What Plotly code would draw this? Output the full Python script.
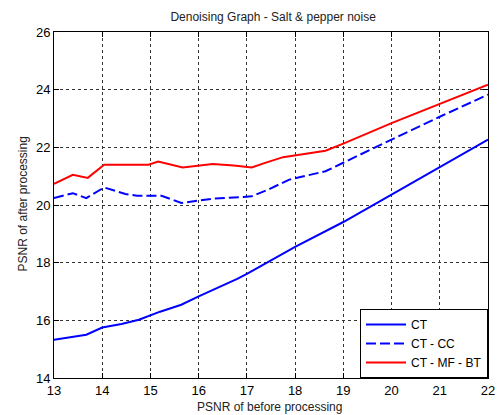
import plotly.graph_objects as go

x_ct = [13.0, 13.67, 14.0, 14.4, 14.76, 15.2, 15.64, 16.0, 16.8, 17.0, 18.0, 19.0, 20.0, 21.0, 22.0]
y_ct = [15.33, 15.5, 15.75, 15.87, 16.02, 16.3, 16.54, 16.83, 17.44, 17.61, 18.55, 19.41, 20.36, 21.32, 22.27]

x_cc = [13.0, 13.39, 13.67, 14.04, 14.48, 14.72, 15.23, 15.64, 15.98, 16.32, 16.93, 17.1, 17.41, 17.88, 18.63, 19.0, 20.0, 21.0, 22.0]
y_cc = [20.24, 20.41, 20.24, 20.61, 20.38, 20.32, 20.32, 20.07, 20.15, 20.22, 20.28, 20.3, 20.51, 20.88, 21.17, 21.46, 22.27, 23.06, 23.83]

x_bt = [13.0, 13.39, 13.7, 14.04, 14.96, 15.16, 15.67, 16.01, 16.29, 16.73, 17.1, 17.41, 17.75, 18.63, 19.0, 20.0, 21.0, 22.0]
y_bt = [20.73, 21.05, 20.94, 21.40, 21.40, 21.51, 21.3, 21.36, 21.42, 21.37, 21.3, 21.48, 21.66, 21.88, 22.13, 22.84, 23.5, 24.17]

x_ticks = list(range(13, 23))
y_ticks = list(range(14, 27, 2))

FONT = "Liberation Sans, Arial, sans-serif"
W, H = 503, 415
ML, MR, MT, MB = 54, 8, 32, 37

fig = go.Figure()
fig.add_trace(go.Scatter(x=x_ct, y=y_ct, mode="lines", name="CT",
                         line=dict(color="#0000ff", width=2)))
fig.add_trace(go.Scatter(x=x_cc, y=y_cc, mode="lines", name="CT - CC",
                         line=dict(color="#0000ff", width=2, dash="10px,4px")))
fig.add_trace(go.Scatter(x=x_bt, y=y_bt, mode="lines", name="CT - MF - BT",
                         line=dict(color="#ff0000", width=2)))

axis_common = dict(
    showline=True, linecolor="black", linewidth=1, mirror="all",
    ticks="inside", ticklen=5, tickcolor="black",
    showgrid=True, gridcolor="#333333", griddash="dot", gridwidth=1,
    zeroline=False, tickfont=dict(family=FONT, size=13, color="black"),
)

pw = W - ML - MR
ph = H - MT - MB

def px_x(p):
    return (p - ML) / pw

def px_y(p):
    return 1 - (p - MT) / ph

fig.update_layout(
    width=W, height=H,
    margin=dict(l=ML, r=MR, t=MT, b=MB),
    paper_bgcolor="white", plot_bgcolor="white",
    font=dict(family=FONT, color="black"),
    title=dict(text="Denoising Graph - Salt &amp; pepper noise", x=0.543, xanchor="center",
               y=0.96, yanchor="middle", font=dict(family=FONT, size=12, color="#222222")),
    xaxis=dict(range=[13, 22], tickvals=x_ticks, **axis_common),
    yaxis=dict(range=[14, 26], tickvals=y_ticks, **axis_common),
    legend=dict(x=1, y=0, xanchor="right", yanchor="bottom",
                bgcolor="white", bordercolor="black", borderwidth=1,
                font=dict(family=FONT, size=12, color="black"),
                tracegroupgap=0, itemwidth=40),
    showlegend=True,
    annotations=[
        dict(text="PSNR of before processing", xref="paper", yref="paper",
             x=px_x(273), y=px_y(407), xanchor="center", yanchor="middle",
             showarrow=False, font=dict(family=FONT, size=12, color="#222222")),
        dict(text="PSNR of after processing", xref="paper", yref="paper",
             x=px_x(22), y=px_y(204), xanchor="center", yanchor="middle",
             textangle=-90, showarrow=False, font=dict(family=FONT, size=12, color="#222222")),
    ],
)

fig.write_html("out.html")
